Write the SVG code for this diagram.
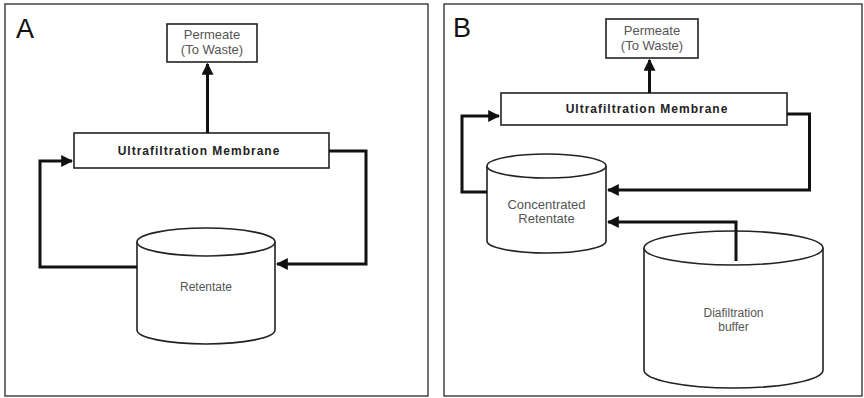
<svg xmlns="http://www.w3.org/2000/svg" width="864" height="398" viewBox="0 0 864 398">
<defs>
<marker id="ah" viewBox="0 0 10 10" refX="9" refY="5" markerWidth="4" markerHeight="4" orient="auto" markerUnits="strokeWidth">
<path d="M0,0 L10,5 L0,10 Z" fill="#111"/>
</marker>
<style>
.frame{fill:#fff;stroke:#444;stroke-width:1.5}
.box{fill:#fff;stroke:#222;stroke-width:1.6}
.cyl{fill:#fff;stroke:#222;stroke-width:1.6}
.conn{fill:none;stroke:#111;stroke-width:3}
.lbl{font-family:"Liberation Sans",Arial,sans-serif;font-size:12px;fill:#555;text-anchor:middle}
.lbl2{font-family:"Liberation Sans",Arial,sans-serif;font-size:13px;fill:#555;text-anchor:middle}
.bold{font-family:"Liberation Sans",Arial,sans-serif;font-size:12px;font-weight:bold;fill:#222;text-anchor:middle;letter-spacing:1px}
.panel{font-family:"Liberation Sans",Arial,sans-serif;font-size:27px;fill:#111}
</style>
</defs>
<rect width="864" height="398" fill="#fff"/>
<rect class="frame" x="5" y="4" width="423" height="392"/>
<rect class="frame" x="444" y="4" width="418" height="392"/>
<text class="panel" x="16" y="38">A</text>
<text class="panel" x="453" y="37">B</text>

<g id="permeateA">
<rect class="box" x="167" y="24" width="90" height="38"/>
<text class="lbl2" x="212" y="39">Permeate</text>
<text class="lbl2" x="212" y="54">(To Waste)</text>
</g>
<g id="membraneA">
<rect class="box" x="74" y="133" width="255" height="35"/>
<text class="bold" x="199" y="155">Ultrafiltration Membrane</text>
</g>
<g id="retentateA">
<path class="cyl" d="M137,242 V330 A69,14 0 0 0 275,330 V242"/>
<ellipse class="cyl" cx="206" cy="242" rx="69" ry="14"/>
<text class="lbl" x="206" y="291">Retentate</text>
</g>

<g id="permeateB">
<rect class="box" x="606" y="19" width="92" height="39"/>
<text class="lbl2" x="652" y="35">Permeate</text>
<text class="lbl2" x="652" y="50">(To Waste)</text>
</g>
<g id="membraneB">
<rect class="box" x="501" y="93" width="286" height="32"/>
<text class="bold" x="647" y="113">Ultrafiltration Membrane</text>
</g>
<g id="concentratedB">
<path class="cyl" d="M487,166 V241 A59.5,12 0 0 0 606,241 V166"/>
<ellipse class="cyl" cx="546.5" cy="166" rx="59.5" ry="12"/>
<text class="lbl2" x="546.5" y="209">Concentrated</text>
<text class="lbl2" x="546.5" y="223">Retentate</text>
</g>
<g id="diafiltrationB">
<path class="cyl" d="M644,248 V370 A89.5,18 0 0 0 823,370 V248"/>
<ellipse class="cyl" cx="733.5" cy="248" rx="89.5" ry="17"/>
<text class="lbl" x="733.5" y="317">Diafiltration</text>
<text class="lbl" x="733.5" y="331">buffer</text>
</g>

<g id="connectors">
<path class="conn" d="M207.5,133 V64" marker-end="url(#ah)"/>
<path class="conn" d="M329,151 H366 V264 H277" marker-end="url(#ah)"/>
<path class="conn" d="M137,267 H40 V161 H72" marker-end="url(#ah)"/>
<path class="conn" d="M649.5,93 V60" marker-end="url(#ah)"/>
<path class="conn" d="M787,114 H809.5 V190 H608" marker-end="url(#ah)"/>
<path class="conn" d="M487,192 H462 V116 H499" marker-end="url(#ah)"/>
<path class="conn" d="M736,261 V222 H608" marker-end="url(#ah)"/>
</g>
</svg>
